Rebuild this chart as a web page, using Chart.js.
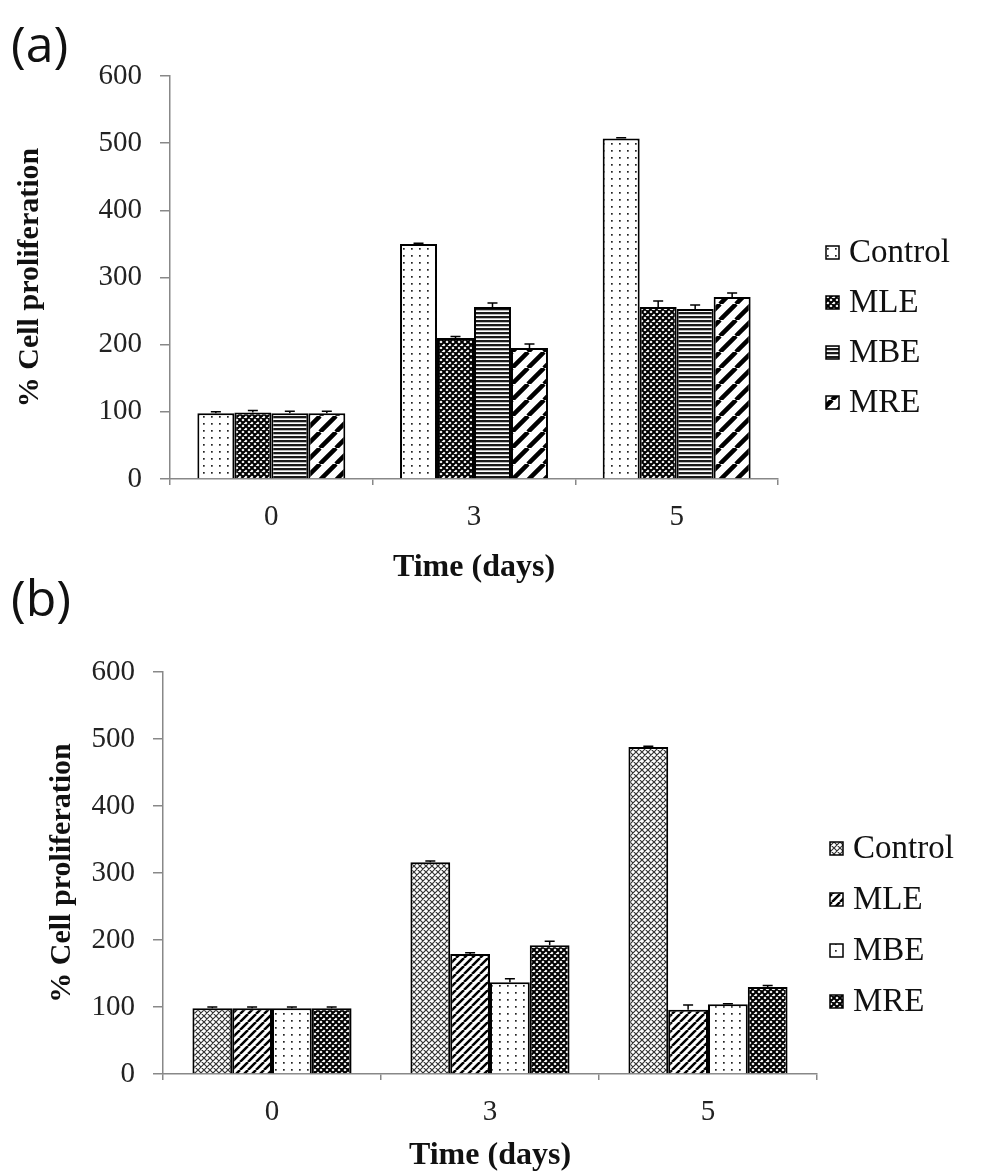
<!DOCTYPE html>
<html>
<head>
<meta charset="utf-8">
<script src="https://cdn.jsdelivr.net/npm/chart.js@4.4.1/dist/chart.umd.min.js"></script>
<style>
    body { margin: 0; background: #fff; }
    #page { position: relative; width: 988px; height: 1175px; overflow: hidden; }
    canvas { position: absolute; left: 0; }
    .panel { position: absolute; left: 11px; font: 50px "Open Sans", sans-serif; line-height: 1; color: #111; }
</style>
</head>
<body>
<div id="page">
    <div class="panel" style="top:18px">(a)</div>
    <canvas id="chartA" width="988" height="590" style="top:0"></canvas>
    <div class="panel" style="top:572px">(b)</div>
    <canvas id="chartB" width="988" height="585" style="top:590px"></canvas>
</div>
<script>
// x categories (days) and y tick values, shared by both panels
const days = ['0', '3', '5'];
const yTickValues = [0, 100, 200, 300, 400, 500, 600];
const seriesNames = ['Control', 'MLE', 'MBE', 'MRE'];

// panel (a)
const controlA = [98, 350, 507];
const mleA = [99, 210, 256];
const mbeA = [98, 256, 253];
const mreA = [98, 195, 271];
const controlErrA = [2, 1, 1];
const mleErrA = [3, 2, 9];
const mbeErrA = [3, 6, 6];
const mreErrA = [3, 6, 6];

// panel (b)
const controlB = [98, 316, 488];
const mleB = [98, 179, 96];
const mbeB = [98, 137, 104];
const mreB = [98, 192, 130];
const controlErrB = [2, 2, 1];
const mleErrB = [2, 2, 7];
const mbeErrB = [2, 5, 1];
const mreErrB = [2, 6, 2];

// black & white fill patterns like the excel ones
function makePattern(kind) {
    const c = document.createElement('canvas');
    const g = c.getContext('2d');
    let s = 8;
    if (kind === 'dots') {
        c.width = 8; c.height = 7;
        g.fillStyle = '#fff'; g.fillRect(0, 0, 8, 7);
        g.fillStyle = '#222'; g.fillRect(3, 3, 1.7, 1.7);
    } else if (kind === 'hlines') {
        c.width = 4; c.height = 4;
        g.fillStyle = '#fff'; g.fillRect(0, 0, 4, 4);
        g.fillStyle = '#1a1a1a'; g.fillRect(0, 0, 4, 2.3);
    } else if (kind === 'weaveDark' || kind === 'weaveLight') {
        s = 6;
        c.width = s; c.height = s;
        g.fillStyle = '#fff'; g.fillRect(0, 0, s, s);
        g.strokeStyle = kind === 'weaveDark' ? '#000' : '#333';
        g.lineWidth = kind === 'weaveDark' ? 2 : 1.2;
        g.beginPath();
        for (let k = -s; k <= s; k += s) {
            g.moveTo(k, 0); g.lineTo(k + s, s);
            g.moveTo(k + s, 0); g.lineTo(k, s);
        }
        g.stroke();
    } else if (kind === 'wideDiag' || kind === 'thinDiag') {
        s = kind === 'wideDiag' ? 16 : 8;
        c.width = s; c.height = s;
        g.fillStyle = '#fff'; g.fillRect(0, 0, s, s);
        g.strokeStyle = '#000';
        g.lineWidth = kind === 'wideDiag' ? 4.5 : 2.5;
        g.beginPath();
        for (let k = -s; k <= s; k += s) {
            g.moveTo(k, s); g.lineTo(k + s, 0);
        }
        g.stroke();
    }
    return g.createPattern(c, 'repeat');
}

// error bars (plus side only, with cap)
const errorBars = {
    id: 'errorBars',
    afterDatasetsDraw(chart) {
        const { ctx } = chart;
        const yScale = chart.scales.y;
        ctx.save();
        ctx.strokeStyle = '#000';
        ctx.lineWidth = 1.5;
        chart.data.datasets.forEach((ds, i) => {
            chart.getDatasetMeta(i).data.forEach((bar, j) => {
                const top = yScale.getPixelForValue(ds.data[j] + ds.errors[j]);
                ctx.beginPath();
                ctx.moveTo(bar.x, bar.y);
                ctx.lineTo(bar.x, top);
                ctx.moveTo(bar.x - 5, top);
                ctx.lineTo(bar.x + 5, top);
                ctx.stroke();
            });
        });
        ctx.restore();
    }
};

// legend drawn by hand so it can sit where excel put it
const boxLegend = {
    id: 'boxLegend',
    afterDraw(chart, args, opts) {
        const { ctx } = chart;
        ctx.save();
        ctx.font = '33px "Liberation Serif", serif';
        ctx.textBaseline = 'middle';
        chart.data.datasets.forEach((ds, i) => {
            const y = opts.top + i * opts.step;
            ctx.fillStyle = ds.backgroundColor;
            ctx.fillRect(opts.x, y - 6, 13, 13);
            ctx.strokeStyle = '#000';
            ctx.lineWidth = 1.5;
            ctx.strokeRect(opts.x, y - 6, 13, 13);
            ctx.fillStyle = '#111';
            ctx.fillText(ds.label, opts.x + 23, y + 1);
        });
        ctx.restore();
    }
};

function makeDatasets(values, errors, fills) {
    return seriesNames.map((name, i) => ({
        label: name,
        data: values[i],
        errors: errors[i],
        backgroundColor: makePattern(fills[i]),
        borderColor: '#000',
        borderWidth: 2,
        categoryPercentage: 0.73,
        barPercentage: 1.0
    }));
}

function makeConfig(datasets, lay) {
    return {
        type: 'bar',
        data: { labels: days, datasets: datasets },
        options: {
            responsive: false,
            animation: false,
            layout: { padding: { left: 0, top: lay.top, right: lay.right, bottom: 0 } },
            plugins: {
                legend: { display: false },
                tooltip: { enabled: false },
                boxLegend: lay.legend
            },
            scales: {
                x: {
                    grid: { drawOnChartArea: false, drawTicks: true, tickLength: 6, color: '#888', lineWidth: 1.5 },
                    border: { color: '#888', width: 1.5 },
                    ticks: { padding: 15, color: '#222', font: { family: '"Liberation Serif", serif', size: 29 } },
                    title: {
                        display: true,
                        text: 'Time (days)',
                        color: '#111',
                        padding: { top: 0, bottom: lay.xTitlePad },
                        font: { family: '"Liberation Serif", serif', size: 32, weight: 'bold' }
                    },
                    afterFit(scale) { scale.height = lay.xHeight; }
                },
                y: {
                    min: yTickValues[0],
                    max: yTickValues[yTickValues.length - 1],
                    grid: { drawOnChartArea: false, drawTicks: true, tickLength: 10, color: '#888', lineWidth: 1.5 },
                    border: { color: '#888', width: 1.5 },
                    ticks: { stepSize: yTickValues[1] - yTickValues[0], padding: 18, color: '#222', font: { family: '"Liberation Serif", serif', size: 29 } },
                    title: {
                        display: true,
                        text: '% Cell proliferation',
                        color: '#111',
                        padding: { top: lay.yTitlePad, bottom: 0 },
                        font: { family: '"Liberation Serif", serif', size: 30, weight: 'bold' }
                    },
                    afterFit(scale) { scale.width = lay.yWidth; }
                }
            }
        },
        plugins: [errorBars, boxLegend]
    };
}

const datasetsA = makeDatasets(
    [controlA, mleA, mbeA, mreA],
    [controlErrA, mleErrA, mbeErrA, mreErrA],
    ['dots', 'weaveDark', 'hlines', 'wideDiag']
);
const datasetsB = makeDatasets(
    [controlB, mleB, mbeB, mreB],
    [controlErrB, mleErrB, mbeErrB, mreErrB],
    ['weaveLight', 'thinDiag', 'dots', 'weaveDark']
);

new Chart(document.getElementById('chartA').getContext('2d'), makeConfig(datasetsA, {
    top: 76, right: 210, xHeight: 111, yWidth: 170, xTitlePad: 3, yTitlePad: 12,
    legend: { x: 826, top: 252, step: 50 }
}));

new Chart(document.getElementById('chartB').getContext('2d'), makeConfig(datasetsB, {
    top: 82, right: 171, xHeight: 101, yWidth: 163, xTitlePad: 0, yTitlePad: 44,
    legend: { x: 830, top: 258, step: 51 }
}));
</script>
</body>
</html>
